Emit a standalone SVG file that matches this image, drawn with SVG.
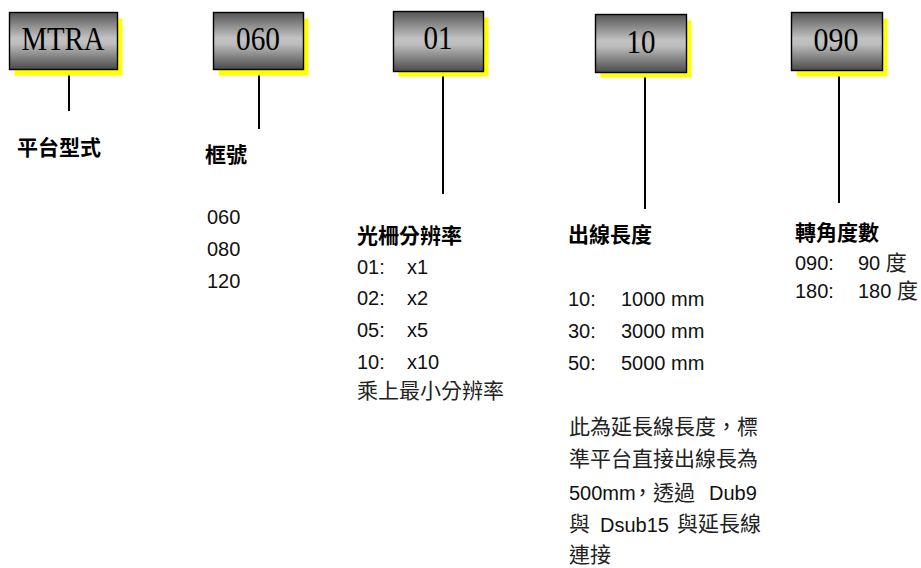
<svg xmlns="http://www.w3.org/2000/svg" width="921" height="568" viewBox="0 0 921 568">
<defs>
<linearGradient id="g" x1="0" y1="0" x2="0" y2="1">
<stop offset="0" stop-color="#555555"/>
<stop offset="0.45" stop-color="#c2c2c2"/>
<stop offset="0.55" stop-color="#bdbdbd"/>
<stop offset="1" stop-color="#4a4a4a"/>
</linearGradient>
<style>
.box{fill:url(#g);stroke:#000;stroke-width:1.4}
.sh{fill:#ffff00}
.bt{font-family:"Liberation Serif","Times New Roman",serif;font-size:33px;fill:#000;text-anchor:middle}
.ln{stroke:#000;stroke-width:2}
.h{font-family:"Liberation Sans","Noto Sans CJK TC",sans-serif;font-size:21px;font-weight:bold;fill:#000}
.t{font-family:"Liberation Sans","Noto Sans CJK TC",sans-serif;font-size:20px;fill:#111}
.c{font-family:"Noto Sans CJK TC","Liberation Sans",sans-serif;font-size:21px;fill:#222}
</style>
</defs>
<rect width="921" height="568" fill="#fff"/>
<g id="connectors">
<line class="ln" x1="69" y1="69" x2="69" y2="111"/>
<line class="ln" x1="259" y1="69" x2="259" y2="129"/>
<line class="ln" x1="443" y1="71" x2="443" y2="194"/>
<line class="ln" x1="645" y1="72" x2="645" y2="209"/>
<line class="ln" x1="839" y1="71" x2="839" y2="203"/>
</g>
<g id="box-mtra">
<rect class="sh" x="14.5" y="18.5" width="108" height="57"/>
<rect class="box" x="9.5" y="12.5" width="108" height="57"/>
<text class="bt" x="63" y="50" textLength="83" lengthAdjust="spacingAndGlyphs">MTRA</text>
</g>
<g id="box-060">
<rect class="sh" x="218.5" y="18.5" width="90" height="57"/>
<rect class="box" x="213.5" y="12.5" width="90" height="57"/>
<text class="bt" x="258" y="50" textLength="44" lengthAdjust="spacingAndGlyphs">060</text>
</g>
<g id="box-01">
<rect class="sh" x="398.5" y="17.5" width="90" height="59"/>
<rect class="box" x="393.5" y="11.5" width="90" height="60"/>
<text class="bt" x="438" y="49" textLength="29" lengthAdjust="spacingAndGlyphs">01</text>
</g>
<g id="box-10">
<rect class="sh" x="600.5" y="20.5" width="91" height="57"/>
<rect class="box" x="595.5" y="14.5" width="91" height="58"/>
<text class="bt" x="641" y="53" textLength="29" lengthAdjust="spacingAndGlyphs">10</text>
</g>
<g id="box-090">
<rect class="sh" x="796.5" y="18.5" width="91" height="58"/>
<rect class="box" x="791.5" y="12.5" width="91" height="58"/>
<text class="bt" x="836" y="51" textLength="45" lengthAdjust="spacingAndGlyphs">090</text>
</g>
<g id="label-platform">
<text class="h" x="17" y="155">平台型式</text>
</g>
<g id="label-frame">
<text class="h" x="205" y="162">框號</text>
<text class="t" x="207" y="224">060</text>
<text class="t" x="207" y="256">080</text>
<text class="t" x="207" y="288">120</text>
</g>
<g id="label-grating">
<text class="h" x="357" y="243">光柵分辨率</text>
<text class="t" x="357" y="274">01:</text><text class="t" x="407" y="274">x1</text>
<text class="t" x="357" y="305">02:</text><text class="t" x="407" y="305">x2</text>
<text class="t" x="357" y="337">05:</text><text class="t" x="407" y="337">x5</text>
<text class="t" x="357" y="369">10:</text><text class="t" x="407" y="369">x10</text>
<text class="c" x="357" y="398">乘上最小分辨率</text>
</g>
<g id="label-cable">
<text class="h" x="568" y="242">出線長度</text>
<text class="t" x="568" y="306">10:</text><text class="t" x="621" y="306">1000 mm</text>
<text class="t" x="568" y="338">30:</text><text class="t" x="621" y="338">3000 mm</text>
<text class="t" x="568" y="370">50:</text><text class="t" x="621" y="370">5000 mm</text>
<text class="c" x="569" y="434">此為延長線長度，標</text>
<text class="c" x="569" y="466">準平台直接出線長為</text>
<text class="t" x="569" y="500">500mm</text><text class="c" x="632" y="500">，透過</text><text class="t" x="709" y="500">Dub9</text>
<text class="c" x="569" y="531">與</text><text class="t" x="600" y="532">Dsub15</text><text class="c" x="677" y="531">與延長線</text>
<text class="c" x="569" y="562">連接</text>
</g>
<g id="label-angle">
<text class="h" x="795" y="240">轉角度數</text>
<text class="t" x="795" y="270">090:</text><text class="t" x="858" y="270">90 <tspan class="c">度</tspan></text>
<text class="t" x="795" y="298">180:</text><text class="t" x="858" y="298">180 <tspan class="c">度</tspan></text>
</g>
</svg>
